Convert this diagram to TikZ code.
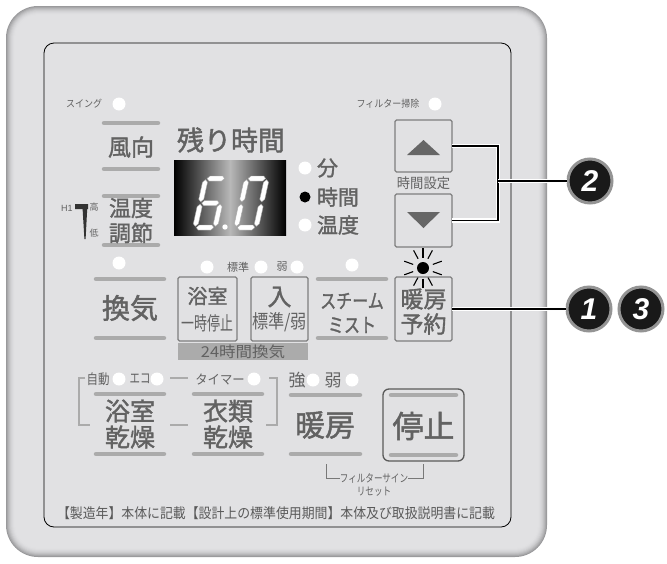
\documentclass[tikz,border=0pt]{standalone}
\usepackage{fontspec}
\usepackage{graphicx}
\newfontfamily\jp{Noto Sans CJK JP}
\newfontfamily\jpb{Noto Sans CJK JP}[FakeBold=1.5]
\newfontfamily\numf{Liberation Sans}
\newcommand\cnd[2]{\scalebox{#1}[1]{#2}}
\newcommand\fs[1]{\fontsize{#1}{#1}\selectfont}
\definecolor{panelc}{HTML}{E1E1E3}
\definecolor{rimc}{HTML}{9A9A9C}
\definecolor{txtc}{HTML}{626262}
\definecolor{barc}{HTML}{ABABAB}
\definecolor{btnc}{HTML}{7E7E7E}
\definecolor{trigc}{HTML}{666666}
\definecolor{dispmid}{HTML}{B8B8B8}
\definecolor{ringc}{HTML}{949494}
\definecolor{stopc}{HTML}{5A5A5A}
\begin{document}
\begin{tikzpicture}[x=1pt,y=-1pt,
  lbl/.style={text=txtc, inner sep=0pt, outer sep=0pt},
  bar/.style={draw=barc, line width=4.5pt, line cap=round},
  led/.style={fill=white},
  btnbox/.style={draw=btnc, line width=1.1pt, rounded corners=1.5pt, minimum width=57pt, inner sep=0pt, outer sep=0pt},
  thinln/.style={draw=barc, line width=1.3pt},
  callout/.style={draw=black, line width=1.6pt, preaction={draw=white, line width=4.2pt}},
  numc/.style={circle, fill=black!90, draw=ringc, line width=3pt, minimum size=44pt, inner sep=0pt, text=white, font=\numf\bfseries\itshape\fs{30}},
  seg/.style={fill=white, draw=black!35, line width=0.4pt}
]
\useasboundingbox (0,0) rectangle (667,563);
\fill[white] (0,0) rectangle (667,563);
% outer panel with soft rim
\foreach \i in {0,...,9}{
  \pgfmathtruncatemacro\p{100-(9-\i)*(9-\i)*100/81}
  \pgfmathsetmacro\r{32-\i}
  \fill[panelc!\p!rimc, rounded corners=\r pt] (6+\i,6+\i) rectangle (547-\i,557-\i);
}
% inner panel
\draw[black, line width=0.8pt, rounded corners=10pt] (44,43) rectangle (511,527);

% top labels
\node[lbl, font=\jp\fs{10}] (swing) at (84,104) {\cnd{0.9}{スイング}};
\fill[led] (119,104) circle (6.5);
\node[lbl, font=\jp\fs{10}] (filt) at (388,104) {\cnd{0.9}{フィルター掃除}};
\fill[led] (435,104) circle (6.5);

% wind direction
\draw[bar] (104,123) -- (158,123);
\draw[bar] (104,169) -- (158,169);
\node[lbl, font=\jpb\fs{23}] (fuko) at (131,147) {風向};

% temperature
\draw[bar] (104,196) -- (158,196);
\draw[bar] (104,245) -- (158,245);
\node[lbl, font=\jpb\fs{22}] (ondo) at (131,208) {温度};
\node[lbl, font=\jpb\fs{22}] (chosetsu) at (131,233) {調節};
\node[lbl, font=\numf\fs{9}] (h1) at (67,208) {H1};
\fill[black!80] (75,204) -- (88,204) -- (88,209) -- (87.2,209) -- (85.6,239) -- (84.4,239) -- (82.6,209) -- (75,209) -- cycle;
\node[lbl, font=\jp\fs{9}] (taka) at (94,207) {高};
\node[lbl, font=\jp\fs{9}] (hiku) at (94,233) {低};

% remaining time display
\node[lbl, font=\jpb\fs{27}] (nokori) at (231,140) {残り時間};
\shade[left color=black, right color=black, middle color=dispmid] (174,160) rectangle (286,235);
% digit 6
\begin{scope}[shift={(192,230)}, x=1pt, y=1pt, xslant=0.22]
  \filldraw[seg] (3.7,51.5) -- (6.2,54) -- (18.8,54) -- (21.3,51.5) -- (18.8,49) -- (6.2,49) -- cycle;
  \filldraw[seg] (3.7,27) -- (6.2,29.5) -- (18.8,29.5) -- (21.3,27) -- (18.8,24.5) -- (6.2,24.5) -- cycle;
  \filldraw[seg] (3.7,2.5) -- (6.2,5) -- (18.8,5) -- (21.3,2.5) -- (18.8,0) -- (6.2,0) -- cycle;
  \filldraw[seg] (2.5,28.2) -- (5,30.7) -- (5,47.8) -- (2.5,50.3) -- (0,47.8) -- (0,30.7) -- cycle;
  \filldraw[seg] (2.5,3.7) -- (5,6.2) -- (5,23.3) -- (2.5,25.8) -- (0,23.3) -- (0,6.2) -- cycle;
  \filldraw[seg] (22.5,3.7) -- (25,6.2) -- (25,23.3) -- (22.5,25.8) -- (20,23.3) -- (20,6.2) -- cycle;
\end{scope}
\fill[white] (225,227) circle (2.7);
% digit 0
\begin{scope}[shift={(233,230)}, x=1pt, y=1pt, xslant=0.22]
  \filldraw[seg] (3.7,51.5) -- (6.2,54) -- (18.8,54) -- (21.3,51.5) -- (18.8,49) -- (6.2,49) -- cycle;
  \filldraw[seg] (3.7,2.5) -- (6.2,5) -- (18.8,5) -- (21.3,2.5) -- (18.8,0) -- (6.2,0) -- cycle;
  \filldraw[seg] (2.5,28.2) -- (5,30.7) -- (5,47.8) -- (2.5,50.3) -- (0,47.8) -- (0,30.7) -- cycle;
  \filldraw[seg] (2.5,3.7) -- (5,6.2) -- (5,23.3) -- (2.5,25.8) -- (0,23.3) -- (0,6.2) -- cycle;
  \filldraw[seg] (22.5,28.2) -- (25,30.7) -- (25,47.8) -- (22.5,50.3) -- (20,47.8) -- (20,30.7) -- cycle;
  \filldraw[seg] (22.5,3.7) -- (25,6.2) -- (25,23.3) -- (22.5,25.8) -- (20,23.3) -- (20,6.2) -- cycle;
\end{scope}
\fill[white] (305,168) circle (6.5);
\fill[black] (305,197) circle (5.5);
\fill[white] (305,225) circle (6.5);
\node[lbl, font=\jpb\fs{21}, anchor=west] (fun) at (317,168) {分};
\node[lbl, font=\jpb\fs{21}, anchor=west] (jikan) at (317,197) {時間};
\node[lbl, font=\jpb\fs{21}, anchor=west] (ondo2) at (317,225) {温度};

% time setting buttons
\node[btnbox, minimum height=52pt] (upbtn) at (423.5,146) {};
\fill[trigc] (407,155) -- (440,155) -- (423.5,140) -- cycle;
\node[lbl, font=\jp\fs{14}] (jset) at (423.5,183) {\cnd{0.95}{時間設定}};
\node[btnbox, minimum height=53pt] (dnbtn) at (423.5,220.5) {};
\fill[trigc] (407,212) -- (440,212) -- (423.5,228) -- cycle;

% row 3
\fill[led] (119,263) circle (6.5);
\draw[bar] (96,279) -- (164,279);
\draw[bar] (96,338) -- (164,338);
\node[lbl, font=\jpb\fs{28}] (kanki) at (130,308) {換気};
\fill[led] (207,267) circle (6.5);
\node[lbl, font=\jp\fs{11}] (hyo) at (238,267) {標準};
\fill[led] (261,267) circle (6.5);
\node[lbl, font=\jp\fs{11}] (jaku) at (282,267) {弱};
\fill[led] (297,267) circle (6.5);
\node[btnbox, minimum width=59pt, minimum height=64pt] (yoku) at (207.5,309) {};
\node[lbl, font=\jpb\fs{20}] (yokut) at (207.5,296) {浴室};
\node[lbl, font=\jp\fs{19}] (ichiji) at (207.5,323) {\cnd{0.68}{一時停止}};
\node[btnbox, minimum width=57pt, minimum height=64pt] (iri) at (279.5,309) {};
\node[lbl, font=\jpb\fs{24}] (irit) at (279.5,297) {入};
\node[lbl, font=\jp\fs{19}] (hyojaku) at (279.5,322) {\cnd{0.85}{標準/弱}};
\fill[barc] (178,343) rectangle (308,360);
\node[lbl, font=\jp\fs{15}, text=black!62] (h24) at (243,351.5) {\cnd{1.1}{24時間換気}};
\fill[led] (352,265) circle (6.5);
\draw[bar] (318,279) -- (386,279);
\draw[bar] (318,338) -- (386,338);
\node[lbl, font=\jpb\fs{20}] (steam) at (352,301) {\cnd{0.8}{スチーム}};
\node[lbl, font=\jpb\fs{20}] (mist) at (352,325) {\cnd{0.8}{ミスト}};
% blinking lamp
\fill[black] (423,268) circle (6);
\foreach \a in {90,62,118,20,-20,160,200,270,242,298}
  \draw[black, line width=1.1pt, shift={(423,268)}] (\a:10.5) -- (\a:20);
\node[btnbox, minimum height=64pt] (yoyaku) at (423.5,309) {};
\node[lbl, font=\jpb\fs{23}] (danbo1) at (423.5,299) {暖房};
\node[lbl, font=\jpb\fs{23}] (yoyakut) at (423.5,324) {予約};

% callouts
\node[numc] (c2) at (590,181) {2};
\node[numc] (c1) at (589,309) {1};
\node[numc] (c3) at (641,309) {3};
\coordinate (bk) at (498,181);
\draw[callout] (upbtn.east) -| (bk);
\draw[callout] (dnbtn.east) -| (bk);
\draw[callout] (bk) -- (c2);
\draw[callout] (yoyaku.east) -- (c1);

% row 4
\draw[thinln] (85,378) -- (79,378) -- (79,425) -- (90,425);
\draw[thinln] (269,378) -- (277,378) -- (277,425) -- (266,425);
\draw[thinln] (170,378) -- (188,378);
\draw[thinln] (170,425) -- (188,425);
\node[lbl, font=\jp\fs{14}] (jido) at (98,379) {\cnd{0.82}{自動}};
\fill[led] (119,379) circle (6.5);
\node[lbl, font=\jp\fs{14}] (eco) at (140,379) {\cnd{0.75}{エコ}};
\fill[led] (157,379) circle (6.5);
\node[lbl, font=\jp\fs{13}] (timer) at (220,379) {\cnd{0.95}{タイマー}};
\fill[led] (254,379) circle (6.5);
\node[lbl, font=\jp\fs{17}] (kyo) at (297,380) {強};
\fill[led] (313,380) circle (6.5);
\node[lbl, font=\jp\fs{17}] (jaku2) at (333,380) {弱};
\fill[led] (352,380) circle (6.5);

\draw[bar] (96,394) -- (164,394);
\draw[bar] (96,454) -- (164,454);
\node[lbl, font=\jpb\fs{25}] (yoku2) at (130,411) {浴室};
\node[lbl, font=\jpb\fs{25}] (kanso1) at (130,437) {乾燥};
\draw[bar] (194,394) -- (262,394);
\draw[bar] (194,454) -- (262,454);
\node[lbl, font=\jpb\fs{25}] (irui) at (228,411) {衣類};
\node[lbl, font=\jpb\fs{25}] (kanso2) at (228,437) {乾燥};
\draw[bar] (291,395) -- (360,395);
\draw[bar] (291,454) -- (360,454);
\node[lbl, font=\jpb\fs{30}] (danbo2) at (325,425) {暖房};
\node[draw=stopc, line width=1.3pt, rounded corners=6pt, minimum width=81pt, minimum height=72pt, inner sep=0pt] (teishi) at (423.5,425) {};
\draw[bar] (391,395) -- (456,395);
\draw[bar] (391,455) -- (456,455);
\node[lbl, font=\jpb\fs{31}] (teishit) at (423.5,426) {停止};

% filter sign reset
\node[lbl, font=\jp\fs{11}] (fsign) at (374,478) {\cnd{0.78}{フィルターサイン}};
\node[lbl, font=\jp\fs{11}] (reset) at (374,492) {\cnd{0.78}{リセット}};
\draw[barc!70!black, line width=0.8pt] (326,464) -- (326,478) -- (fsign.west);
\draw[barc!70!black, line width=0.8pt] (fsign.east) -- (423,478) -- (423,464);

% bottom note
\node[lbl, font=\jp\fs{14}, text=black!65] (note) at (276,513) {\cnd{0.92}{【製造年】本体に記載【設計上の標準使用期間】本体及び取扱説明書に記載}};
\end{tikzpicture}
\end{document}
